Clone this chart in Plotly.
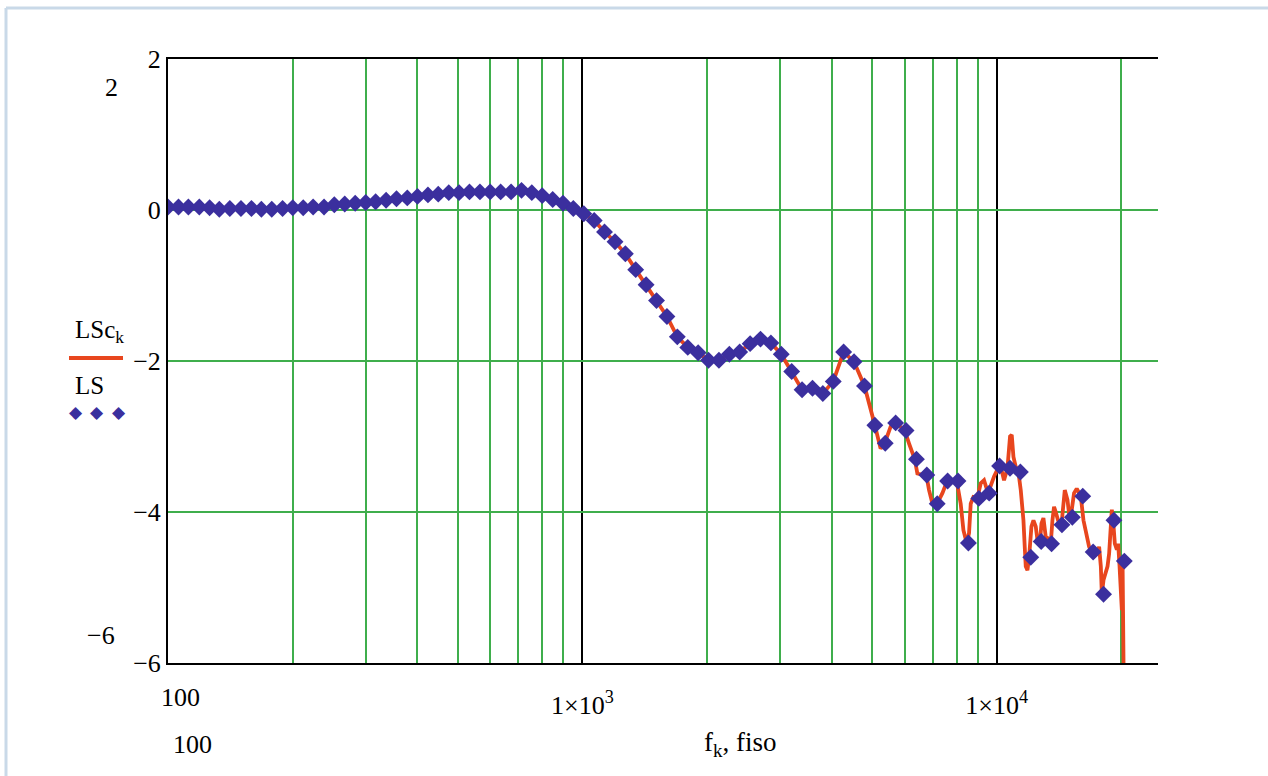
import math
import plotly.graph_objects as go

# ---------------- data ----------------
# 1/12-octave frequencies of the LS markers
fiso = [100, 106, 112, 119, 126, 133, 141, 150, 159, 168, 178, 189,
        200, 212, 224, 238, 252, 267, 283, 300, 317, 336, 356, 378,
        400, 424, 449, 476, 504, 534, 566, 599, 635, 673, 713, 755,
        800, 848, 898, 951, 1008, 1068, 1131, 1199, 1270, 1345, 1425, 1510,
        1600, 1695, 1796, 1903, 2016, 2136, 2263, 2397, 2540, 2691, 2851, 3020,
        3200, 3390, 3592, 3805, 4032, 4271, 4525, 4795, 5080, 5382, 5702, 6041,
        6400, 6781, 7184, 7611, 8063, 8543, 9051, 9589, 10159, 10763, 11404, 12082,
        12800, 13561, 14368, 15222, 16127, 17086, 18102, 19178, 20319]

LS = [0.04, 0.04, 0.04, 0.04, 0.03, 0.01, 0.02, 0.02, 0.02, 0.01, 0.01, 0.02,
      0.03, 0.03, 0.04, 0.04, 0.07, 0.08, 0.09, 0.10, 0.11, 0.13, 0.15, 0.16,
      0.18, 0.20, 0.21, 0.23, 0.23, 0.24, 0.24, 0.24, 0.24, 0.24, 0.26, 0.23,
      0.19, 0.14, 0.09, 0.02, -0.05, -0.14, -0.29, -0.42, -0.58, -0.79, -0.99, -1.20,
      -1.41, -1.68, -1.82, -1.89, -1.99, -1.99, -1.91, -1.88, -1.77, -1.71, -1.76, -1.91,
      -2.14, -2.38, -2.36, -2.43, -2.27, -1.88, -2.01, -2.33, -2.85, -3.09, -2.82, -2.92,
      -3.30, -3.51, -3.89, -3.59, -3.59, -4.41, -3.82, -3.75, -3.39, -3.42, -3.47, -4.60,
      -4.39, -4.42, -4.17, -4.07, -3.79, -4.53, -5.09, -4.11, -4.65]

# finer-resolution curve LSc_k
f_k = [100, 106, 112, 119, 126, 133, 141, 150, 159, 168, 178, 189,
       200, 212, 224, 238, 252, 267, 283, 300, 317, 336, 356, 378,
       400, 424, 449, 476, 504, 534, 566, 599, 635, 673, 713, 755,
       800, 848, 898, 951, 1008, 1068, 1131, 1199, 1270, 1345, 1425, 1510,
       1600, 1695, 1796, 1903, 2016, 2136, 2263, 2397, 2540, 2691, 2851, 3020,
       3200, 3390, 3592, 3805, 4032, 4271, 4525, 4795, 5080,
       5245, 5364, 5546, 5702, 5995, 6141, 6339, 6434, 6766, 6865, 6995, 7164,
       7394, 7603, 8006, 8185, 8310, 8462, 8573, 8654, 8785, 8982, 9149, 9318,
       9528, 9852, 10129, 10266, 10414, 10612, 10767, 10869, 10973, 11112, 11280, 11428,
       11600, 11683, 11749, 11860, 11967, 12128, 12263, 12420, 12538, 12721, 12821, 12962,
       13130, 13298, 13499, 13627, 13750, 13880, 14060, 14328, 14488, 14595, 14815, 14945,
       15087, 15232, 15366, 15599, 15951, 16192, 16405, 16706, 16931, 17179, 17506, 17664,
       17832, 17931, 18100, 18335, 18509, 18675, 18852, 18956, 19093, 19275, 19494, 19634,
       19788, 19930, 20041, 20120, 20230]

LSc = [0.04, 0.04, 0.04, 0.04, 0.03, 0.01, 0.02, 0.02, 0.02, 0.01, 0.01, 0.02,
       0.03, 0.03, 0.04, 0.04, 0.07, 0.08, 0.09, 0.10, 0.11, 0.13, 0.15, 0.16,
       0.18, 0.20, 0.21, 0.23, 0.23, 0.24, 0.24, 0.24, 0.24, 0.24, 0.26, 0.23,
       0.19, 0.14, 0.09, 0.02, -0.05, -0.14, -0.29, -0.42, -0.58, -0.79, -0.99, -1.20,
       -1.41, -1.68, -1.82, -1.89, -1.99, -1.99, -1.91, -1.88, -1.77, -1.71, -1.76, -1.91,
       -2.14, -2.38, -2.36, -2.43, -2.27, -1.88, -2.01, -2.33, -2.85,
       -3.16, -3.09, -2.87, -2.82, -2.92, -3.09, -3.30, -3.49, -3.52, -3.71, -3.89, -3.90,
       -3.75, -3.58, -3.59, -3.89, -4.24, -4.41, -4.28, -3.89, -3.80, -3.81, -3.62, -3.58,
       -3.75, -3.53, -3.39, -3.44, -3.58, -3.42, -3.00, -2.98, -3.27, -3.40, -3.47, -3.71,
       -4.11, -4.46, -4.72, -4.77, -4.60, -4.19, -4.11, -4.19, -4.37, -4.39, -4.15, -4.08,
       -4.33, -4.35, -4.42, -4.11, -3.93, -4.00, -4.11, -4.17, -3.84, -3.71, -3.84, -4.02,
       -4.07, -3.89, -3.75, -3.69, -3.79, -4.11, -4.28, -4.46, -4.53, -4.59, -4.55, -4.46,
       -4.72, -5.09, -4.90, -4.81, -4.72, -4.55, -4.00, -3.97, -4.11, -4.42, -4.50, -4.42,
       -4.72, -5.17, -5.30, -4.65, -6.00]

x_decades = [100, 1000, 10000]
x_decade_text = ["", "1×10<sup>3</sup>", "1×10<sup>4</sup>"]
x_minor = [200, 300, 400, 500, 600, 700, 800, 900,
           2000, 3000, 4000, 5000, 6000, 7000, 8000, 9000, 20000]
y_ticks = [-6, -4, -2, 0, 2]
y_text = ["−6", "−4", "−2", "0", "2"]

# ---------------- style ----------------
W, H = 1268, 776
L, R, T, B = 168, 1158, 59, 663
RED = "#e8461e"
BLUE = "#3b2f9e"
GREEN = "#3fae4c"
FONT = "Liberation Serif"
FS = 26
x_range = [2, math.log10(24500)]


def px(x):
    return (x - L) / (R - L)


def py(y):
    return (B - y) / (B - T)


fig = go.Figure()
fig.add_trace(go.Scatter(x=f_k, y=LSc, mode="lines", name="LSc<sub>k</sub>",
                         line=dict(color=RED, width=3.8), xaxis="x", yaxis="y"))
fig.add_trace(go.Scatter(x=fiso, y=LS, mode="markers", name="LS",
                         marker=dict(symbol="diamond", size=13, color=BLUE),
                         xaxis="x2", yaxis="y"))

text_items = [
    ("2", 111, 88, FS),
    ("−6", 101, 635, FS),
    ("100", 180, 697, FS),
    ("100", 192, 744, FS),
    ("f<sub>k</sub>, fiso", 740, 744, 27),
    ("LSc<sub>k</sub>", 99, 331, 25),
    ("LS", 89, 385, 25),
]
annotations = []
for txt, ax, ay, fs in text_items:
    annotations.append(dict(text=txt, x=px(ax), y=py(ay), xref="paper", yref="paper",
                            showarrow=False, xanchor="center", yanchor="middle",
                            font=dict(family=FONT, size=fs, color="black")))
for dx in (76, 97, 119):
    annotations.append(dict(text="◆", x=px(dx), y=py(412), xref="paper", yref="paper",
                            showarrow=False, xanchor="center", yanchor="middle",
                            font=dict(family="DejaVu Sans", size=17, color=BLUE)))

shapes = [
    # legend line sample
    dict(type="line", xref="paper", yref="paper", x0=px(69), x1=px(123),
         y0=py(358), y1=py(358), line=dict(color=RED, width=4)),
    # light frame of the page
    dict(type="line", xref="paper", yref="paper", x0=px(6), x1=px(6),
         y0=py(8), y1=py(H), line=dict(color="#c9d9e8", width=3)),
    dict(type="line", xref="paper", yref="paper", x0=px(6), x1=px(W),
         y0=py(8), y1=py(8), line=dict(color="#c9d9e8", width=3)),
]

fig.update_layout(
    width=W, height=H,
    margin=dict(l=L, r=W - R, t=T, b=H - B, pad=0),
    paper_bgcolor="white", plot_bgcolor="white",
    showlegend=False,
    font=dict(family=FONT, size=FS, color="black"),
    xaxis=dict(type="log", range=x_range, tickvals=x_decades, ticktext=x_decade_text,
               showgrid=True, gridcolor="black", gridwidth=1.5,
               showline=True, linecolor="black", linewidth=2, mirror=True,
               ticks="outside", ticklen=18, tickcolor="rgba(0,0,0,0)",
               zeroline=False, tickfont=dict(family=FONT, size=FS)),
    xaxis2=dict(type="log", range=x_range, overlaying="x", tickvals=x_minor,
                showgrid=True, gridcolor=GREEN, gridwidth=2,
                showticklabels=False, ticks="", showline=False, zeroline=False),
    yaxis=dict(range=[-6, 2], tickvals=y_ticks, ticktext=y_text,
               showgrid=True, gridcolor=GREEN, gridwidth=2,
               showline=True, linecolor="black", linewidth=2, mirror=False,
               ticks="", zeroline=False, tickfont=dict(family=FONT, size=FS)),
    annotations=annotations,
    shapes=shapes,
)

fig.write_html("out.html",
               config={"displayModeBar": False},
               post_script="document.body.style.margin='0';"
                           "document.body.style.overflow='hidden';")
